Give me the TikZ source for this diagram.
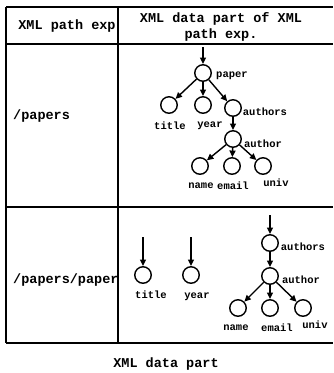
\documentclass[tikz,border=0pt]{standalone}
\usepackage{fontspec}
\setmonofont{Liberation Mono}
\usetikzlibrary{arrows.meta}
\begin{document}
\begin{tikzpicture}[x=1pt,y=-1pt,
  nd/.style={circle,draw,line width=1.4pt,minimum size=16.5pt,inner sep=0pt},
  lbl/.style={font=\ttfamily\bfseries\fontsize{10.5}{12}\selectfont,inner sep=0pt},
  big/.style={font=\ttfamily\bfseries\fontsize{13.5}{15}\selectfont,inner sep=0pt},
  edge/.style={line width=1.4pt,-{Triangle[length=6.5pt,width=6pt]}},
  rule/.style={line width=1.2pt}]
\useasboundingbox (0,0) rectangle (333,373);
% table
\draw[rule] (6,7) -- (333,7);
\draw[rule] (6,44) -- (333,44);
\draw[rule] (6,207) -- (333,207);
\draw[rule] (6,343) -- (333,343);
\draw[rule] (6,7) -- (6,343);
\draw[rule] (118,7) -- (118,343);
% headers
\node[big] (h1) at (67,26) {XML path exp};
\node[big,align=center] (h2) at (221,26.5) {XML data part of XML\\[1pt]path exp.};
\node[big,anchor=west] (r1) at (13,116) {/papers};
\node[big,anchor=west] (r2) at (13,280) {/papers/paper};
\node[big] (cap) at (166,364) {XML data part};
% top tree
\coordinate (t0) at (203,47);
\node[nd] (paper) at (203,73) {};
\node[nd] (title) at (169,105) {};
\node[nd] (year) at (203,105) {};
\node[nd] (authors) at (233,108) {};
\node[nd] (author) at (233,139) {};
\node[nd] (name) at (200,166) {};
\node[nd] (email) at (232,166) {};
\node[nd] (univ) at (263,166) {};
\draw[edge] (t0) -- (paper);
\draw[edge] (paper) -- (title);
\draw[edge] (paper) -- (year);
\draw[edge] (paper) -- (authors);
\draw[edge] (authors) -- (author);
\draw[edge] (author) -- (name);
\draw[edge] (author) -- (email);
\draw[edge] (author) -- (univ);
\node[lbl] (lpaper) at (232,76) {paper};
\node[lbl] (lauthors) at (265,112) {authors};
\node[lbl] (ltitle) at (170,126) {title};
\node[lbl] (lyear) at (210,126) {year};
\node[lbl] (lauthor) at (263,144) {author};
\node[lbl] (lname) at (201,186) {name};
\node[lbl] (lemail) at (233,186) {email};
\node[lbl] (luniv) at (276,183) {univ};
% bottom trees
\coordinate (b1) at (143,237);
\coordinate (b2) at (191,237);
\coordinate (b3) at (270,215);
\node[nd] (btitle) at (143,275) {};
\node[nd] (byear) at (191,275) {};
\node[nd] (bauthors) at (270,243) {};
\node[nd] (bauthor) at (270,276) {};
\node[nd] (bname) at (238,308) {};
\node[nd] (bemail) at (270,308) {};
\node[nd] (buniv) at (303,308) {};
\draw[edge] (b1) -- (btitle);
\draw[edge] (b2) -- (byear);
\draw[edge] (b3) -- (bauthors);
\draw[edge] (bauthors) -- (bauthor);
\draw[edge] (bauthor) -- (bname);
\draw[edge] (bauthor) -- (bemail);
\draw[edge] (bauthor) -- (buniv);
\node[lbl] (lbtitle) at (151,295) {title};
\node[lbl] (lbyear) at (197,297) {year};
\node[lbl] (lbauthors) at (303,247) {authors};
\node[lbl] (lbauthor) at (301,280) {author};
\node[lbl] (lbname) at (236,328) {name};
\node[lbl] (lbemail) at (277,328) {email};
\node[lbl] (lbuniv) at (315,325) {univ};
\end{tikzpicture}
\end{document}
